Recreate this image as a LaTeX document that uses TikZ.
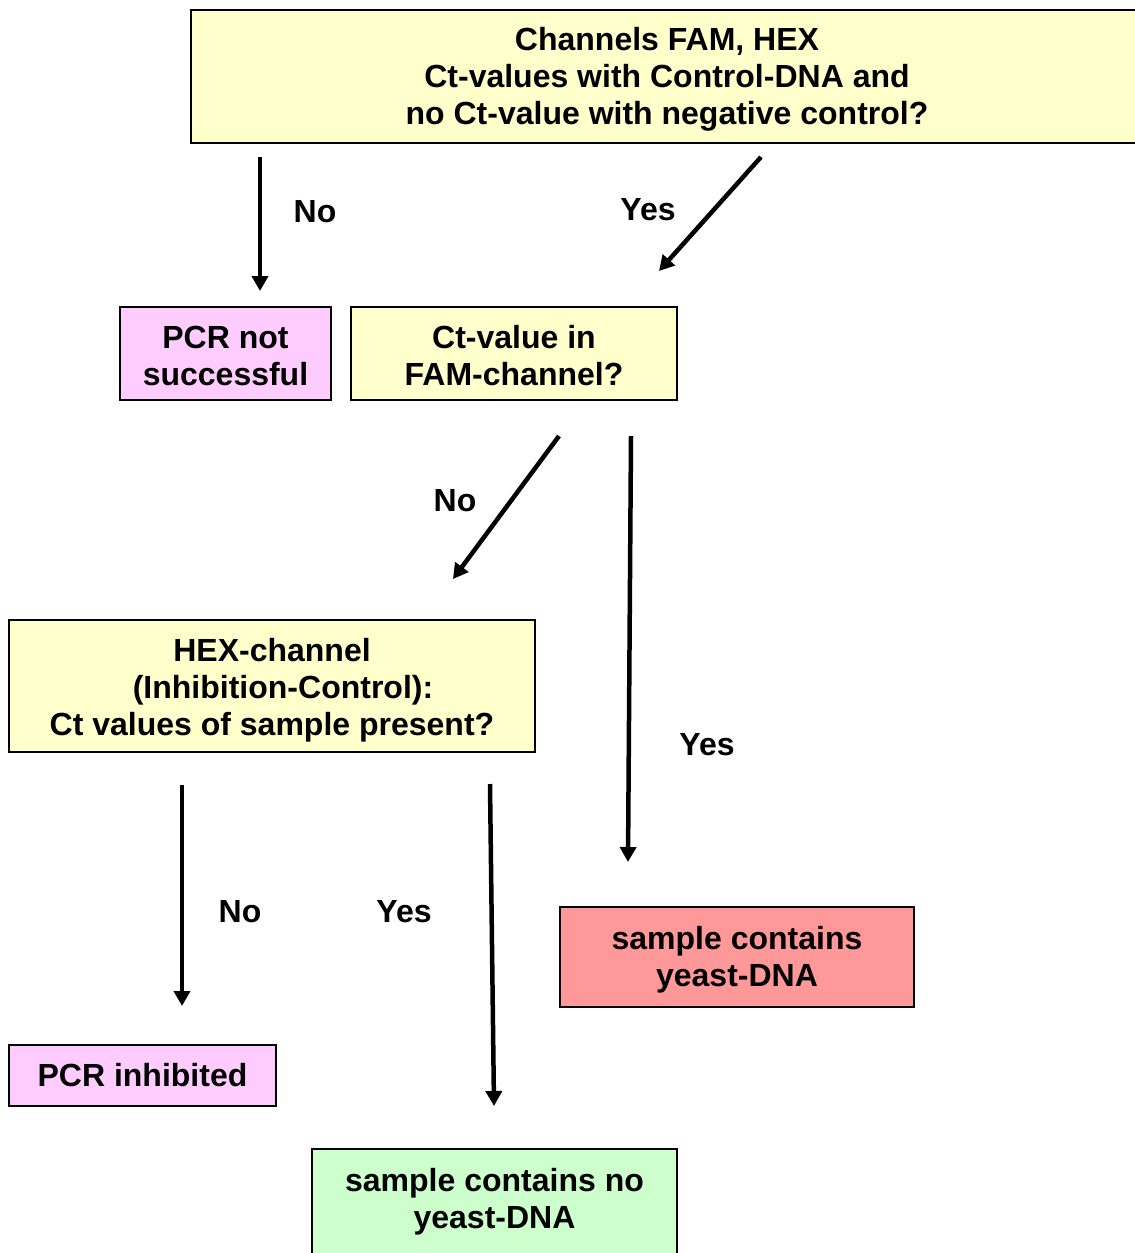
\documentclass[tikz,border=0pt]{standalone}
\usepackage{fontspec}
\setmainfont{Liberation Sans}
\usetikzlibrary{arrows.meta}
\definecolor{qyellow}{HTML}{FFFFCC}
\definecolor{qpink}{HTML}{FFCCFF}
\definecolor{qred}{HTML}{FF9999}
\definecolor{qgreen}{HTML}{CCFFCC}
\newcommand\bxtext[3][6pt]{\raisebox{0pt}[\dimexpr\height+#1\relax][\dimexpr\depth+#2\relax]{\begin{tabular}{@{}c@{}}#3\end{tabular}}}
\begin{document}
\begin{tikzpicture}[x=1pt,y=-1pt,
  box/.style={draw=black, line width=1.5pt, inner sep=0pt,
    font=\fontsize{32}{37}\selectfont\bfseries},
  lbl/.style={font=\fontsize{32}{37}\selectfont\bfseries, inner sep=0pt},
  arr/.style={line width=4.5pt, -{Triangle[length=15pt,width=16pt]}}]
\clip (0,0) rectangle (1135,1253);
\fill[white] (0,0) rectangle (1135,1253);

% boxes
\node (top) [box, fill=qyellow, minimum width=952, minimum height=133] at (667,76.5)
  {\bxtext[8pt]{0pt}{Channels FAM, HEX\\Ct-values with Control-DNA and\\no Ct-value with negative control?}};
\node (pcrns) [box, fill=qpink, minimum width=211, minimum height=93] at (225.5,353.5)
  {\bxtext[12pt]{0pt}{PCR not\\successful}};
\node (fam) [box, fill=qyellow, minimum width=326, minimum height=93] at (514,353.5)
  {\bxtext[12pt]{0pt}{Ct-value in\\FAM-channel?}};
\node (hex) [box, fill=qyellow, minimum width=526, minimum height=132] at (272,686)
  {\bxtext[10pt]{0pt}{HEX-channel\\\hspace*{22pt}(Inhibition-Control):\\Ct values of sample present?}};
\node (yeast) [box, fill=qred, minimum width=354, minimum height=100] at (737,957)
  {\bxtext[8pt]{0pt}{sample contains\\yeast-DNA}};
\node (inhib) [box, fill=qpink, minimum width=267, minimum height=61] at (142.5,1075.5)
  {\bxtext[8pt]{0pt}{PCR inhibited}};
\node (noyeast) [box, fill=qgreen, minimum width=365, minimum height=122] at (494.5,1210)
  {\bxtext[10pt]{24pt}{sample contains no\\yeast-DNA}};

% arrow end points
\coordinate (a1s) at (260,157);  \coordinate (a1e) at (260,291);
\coordinate (a2s) at (761,157);  \coordinate (a2e) at (659,271);
\coordinate (a3s) at (559,436);  \coordinate (a3e) at (453,579);
\coordinate (a4s) at (631,436);  \coordinate (a4e) at (628,862);
\coordinate (a5s) at (182,785);  \coordinate (a5e) at (182,1006);
\coordinate (a6s) at (490,784);  \coordinate (a6e) at (494,1106);

\draw[arr] (a1s) -- (a1e);
\draw[arr] (a2s) -- (a2e);
\draw[arr] (a3s) -- (a3e);
\draw[arr] (a4s) -- (a4e);
\draw[arr] (a5s) -- (a5e);
\draw[arr] (a6s) -- (a6e);

% labels
\node (l1) [lbl] at (315,212) {No};
\node (l2) [lbl] at (648,210) {Yes};
\node (l3) [lbl] at (455,501) {No};
\node (l4) [lbl] at (707,745) {Yes};
\node (l5) [lbl] at (240,912) {No};
\node (l6) [lbl] at (404,912) {Yes};
\end{tikzpicture}
\end{document}
